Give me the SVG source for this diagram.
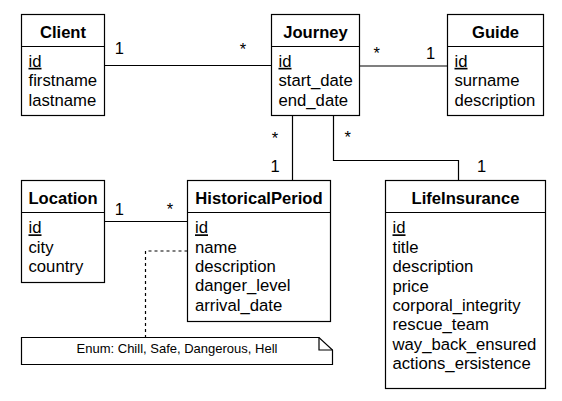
<svg xmlns="http://www.w3.org/2000/svg" width="562" height="401" viewBox="0 0 562 401">
<style>
.box{fill:#fff;stroke:#000;stroke-width:1.2}
.sep{stroke:#000;stroke-width:1.2;fill:none}
.ttl{font-family:"Liberation Sans",Arial,sans-serif;font-size:16.6px;font-weight:bold;text-anchor:middle;fill:#000}
.att{font-family:"Liberation Sans",Arial,sans-serif;font-size:16.7px;fill:#000}
.pk{text-decoration:underline}
.lbl{font-family:"Liberation Sans",Arial,sans-serif;font-size:16.5px;fill:#000;text-anchor:middle}
.edge{fill:none;stroke:#000;stroke-width:1.2}
.dash{fill:none;stroke:#000;stroke-width:1.2;stroke-dasharray:3 3}
.note{font-family:"Liberation Sans",Arial,sans-serif;font-size:13px;fill:#000;text-anchor:middle}
</style>
<rect width="562" height="401" fill="#fff"/>
<g id="connectors">
<path class="edge" d="M104.5 65.5 H271.5"/>
<path class="edge" d="M359.5 66 H447.5"/>
<path class="edge" d="M292.5 115.5 V180.5"/>
<path class="edge" d="M333.5 115.5 V160.5 H458.5 V180.5"/>
<path class="edge" d="M104.5 221.5 H187.5"/>
<path class="dash" d="M187.5 251 H145.5 V337.5"/>
<text class="lbl" x="119.3" y="54">1</text>
<text class="lbl" x="243" y="55">*</text>
<text class="lbl" x="376.7" y="59">*</text>
<text class="lbl" x="430.7" y="58.5">1</text>
<text class="lbl" x="275" y="143.5">*</text>
<text class="lbl" x="275" y="171.5">1</text>
<text class="lbl" x="347.7" y="142.5">*</text>
<text class="lbl" x="481.7" y="171.5">1</text>
<text class="lbl" x="119.3" y="215">1</text>
<text class="lbl" x="170" y="214.5">*</text>
</g>
<g id="client">
<rect class="box" x="21.5" y="14.5" width="83" height="101"/>
<path class="sep" d="M21.5 46.5 H104.5"/>
<text class="ttl" x="63" y="37.5">Client</text>
<text class="att pk" x="28.5" y="66.8">id</text>
<text class="att" x="28.5" y="86.2">firstname</text>
<text class="att" x="28.5" y="105.6">lastname</text>
</g>
<g id="journey">
<rect class="box" x="271.5" y="14.5" width="88" height="101"/>
<path class="sep" d="M271.5 46.5 H359.5"/>
<text class="ttl" x="315.5" y="37.5">Journey</text>
<text class="att pk" x="278.5" y="66.8">id</text>
<text class="att" x="278.5" y="86.2">start_date</text>
<text class="att" x="278.5" y="105.6">end_date</text>
</g>
<g id="guide">
<rect class="box" x="447.5" y="14.5" width="96" height="101"/>
<path class="sep" d="M447.5 46.5 H543.5"/>
<text class="ttl" x="495.5" y="37.5">Guide</text>
<text class="att pk" x="454.5" y="66.8">id</text>
<text class="att" x="454.5" y="86.2">surname</text>
<text class="att" x="454.5" y="105.6">description</text>
</g>
<g id="location">
<rect class="box" x="21.5" y="180.5" width="83" height="102"/>
<path class="sep" d="M21.5 212.5 H104.5"/>
<text class="ttl" x="63" y="203.5">Location</text>
<text class="att pk" x="28.5" y="233.3">id</text>
<text class="att" x="28.5" y="252.6">city</text>
<text class="att" x="28.5" y="271.9">country</text>
</g>
<g id="historicalperiod">
<rect class="box" x="187.5" y="180.5" width="143" height="141"/>
<path class="sep" d="M187.5 212.5 H330.5"/>
<text class="ttl" x="259" y="203.5">HistoricalPeriod</text>
<text class="att pk" x="195" y="233.3">id</text>
<text class="att" x="195" y="252.6">name</text>
<text class="att" x="195" y="271.9">description</text>
<text class="att" x="195" y="291.2">danger_level</text>
<text class="att" x="195" y="310.5">arrival_date</text>
</g>
<g id="lifeinsurance">
<rect class="box" x="385.5" y="180.5" width="160" height="208"/>
<path class="sep" d="M385.5 212.5 H545.5"/>
<text class="ttl" x="465.5" y="203.5">LifeInsurance</text>
<text class="att pk" x="392.5" y="233.3">id</text>
<text class="att" x="392.5" y="252.7">title</text>
<text class="att" x="392.5" y="272.1">description</text>
<text class="att" x="392.5" y="291.5">price</text>
<text class="att" x="392.5" y="310.9">corporal_integrity</text>
<text class="att" x="392.5" y="330.3">rescue_team</text>
<text class="att" x="392.5" y="349.7">way_back_ensured</text>
<text class="att" x="392.5" y="369.1">actions_ersistence</text>
</g>
<g id="note">
<path class="box" d="M21.5 337.5 H319 L332.5 350 V364.5 H21.5 Z"/>
<path class="sep" d="M319 337.5 V350 H332.5"/>
<text class="note" x="177" y="352.5">Enum: Chill, Safe, Dangerous, Hell</text>
</g>
</svg>
